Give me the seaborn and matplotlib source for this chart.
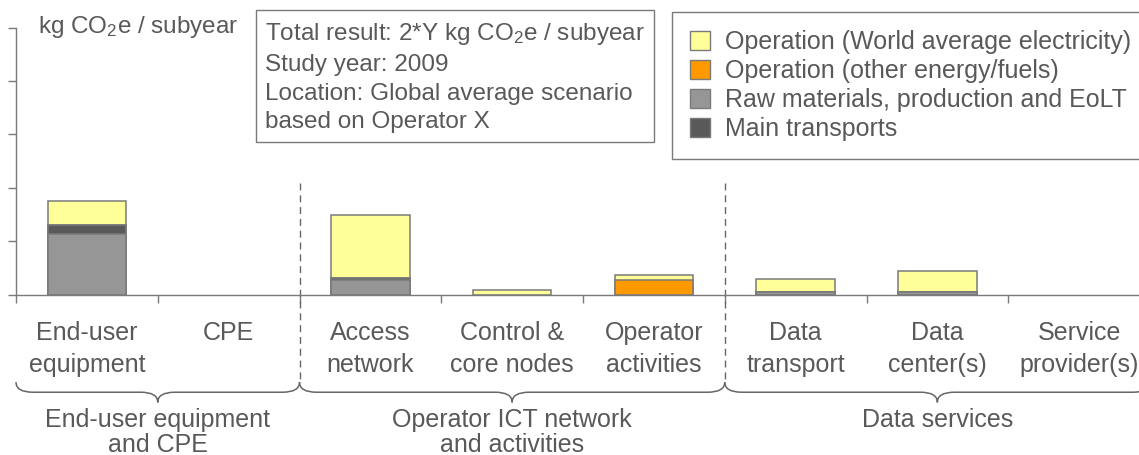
import numpy as np
import pandas as pd
import matplotlib
matplotlib.use("Agg")
import matplotlib.pyplot as plt
import seaborn as sns
from matplotlib.patches import Patch, PathPatch
from matplotlib.path import Path

categories = ["End-user\nequipment", "CPE", "Access\nnetwork", "Control &\ncore nodes",
              "Operator\nactivities", "Data\ntransport", "Data\ncenter(s)", "Service\nprovider(s)"]
raw_materials = [1.13, 0, 0.27, 0, 0, 0.04, 0.04, 0]
main_transports = [0.17, 0, 0.03, 0, 0, 0, 0, 0]
other_fuels = [0, 0, 0, 0, 0.27, 0, 0, 0]
world_electricity = [0.46, 0, 1.19, 0.075, 0.10, 0.25, 0.40, 0]

groups = ["End-user equipment\nand CPE", "Operator ICT network\nand activities", "Data services"]
group_spans = [(-0.5, 1.5), (1.5, 4.5), (4.5, 7.5)]

series_labels = ["Operation (World average electricity)", "Operation (other energy/fuels)",
                 "Raw materials, production and EoLT", "Main transports"]
colors = {"elec": "#FFFF99", "fuel": "#FF9900", "raw": "#969696", "trans": "#595959"}

sns.set_style("white")
plt.rcParams["font.family"] = ["Liberation Sans", "DejaVu Sans"]
plt.rcParams["mathtext.fontset"] = "custom"
plt.rcParams["mathtext.rm"] = "Liberation Sans"
plt.rcParams["mathtext.it"] = "Liberation Sans:italic"

txt = "#595959"
edge = "#7a7a7a"
fs = 18

df = pd.DataFrame({"cat": categories, "raw": raw_materials, "trans": main_transports,
                   "fuel": other_fuels, "elec": world_electricity})
df["c_trans"] = df["raw"] + df["trans"]
df["c_fuel"] = df["c_trans"] + df["fuel"]
df["c_elec"] = df["c_fuel"] + df["elec"]
# empty segments are not drawn
for c in ["raw", "c_trans", "c_fuel", "c_elec"]:
    df[c] = df[c].where(df[c] > 0)

fig = plt.figure(figsize=(11.39, 4.55), dpi=100)
ax = fig.add_axes([16 / 1139, 1 - 294.5 / 455, 1134 / 1139, 267 / 455])

for col, key in [("c_elec", "elec"), ("c_fuel", "fuel"), ("c_trans", "trans"), ("raw", "raw")]:
    sns.barplot(data=df, x="cat", y=col, order=categories, color=colors[key], saturation=1,
                width=0.555, edgecolor=edge, linewidth=1.1, errorbar=None, ax=ax)

ax.set_xlim(-0.5, 7.5)
ax.set_ylim(0, 5)
ax.set_xlabel("")
ax.set_ylabel("")
ax.set_xticks(np.arange(-0.5, 8.0, 1.0))
ax.set_xticklabels([])
ax.set_xticks(np.arange(8), minor=True)
ax.set_xticklabels(categories, minor=True, fontsize=fs, color=txt, linespacing=1.43)
ax.set_yticks(np.arange(0, 6))
ax.set_yticklabels([])
ax.tick_params(axis="both", which="major", direction="out", length=6, width=1, color=edge,
               bottom=True, left=True)
ax.tick_params(axis="x", which="minor", length=0, pad=19, bottom=True)
for s in ["top", "right"]:
    ax.spines[s].set_visible(False)
for s in ["left", "bottom"]:
    ax.spines[s].set_color(edge)
    ax.spines[s].set_linewidth(1)

# dashed separators
for xs in [1.5, 4.5]:
    ax.plot([xs, xs], [2.09, -1.64], ls=(0, (5, 3.5)), color="#666666", lw=1, clip_on=False)

# braces
def brace(x0, x1, top=-1.64, mid=-1.83, tip=-2.02, d=0.12):
    xc = (x0 + x1) / 2
    verts = [(x0, top), (x0, mid), (x0 + d, mid), (xc - d, mid), (xc, mid), (xc, tip),
             (xc, mid), (xc + d, mid), (x1 - d, mid), (x1, mid), (x1, top)]
    codes = [Path.MOVETO, Path.CURVE3, Path.CURVE3, Path.LINETO, Path.CURVE3, Path.CURVE3,
             Path.CURVE3, Path.CURVE3, Path.LINETO, Path.CURVE3, Path.CURVE3]
    ax.add_patch(PathPatch(Path(verts, codes), fc="none", ec="#666666", lw=1.1,
                           clip_on=False, transform=ax.transData))

for (x0, x1), g in zip(group_spans, groups):
    brace(x0, x1)
    ax.text((x0 + x1) / 2, -2.12, g, ha="center", va="top", fontsize=fs, color=txt,
            linespacing=1.08, clip_on=False)

# unit label
fig.text(38 / 1139, 1 - 27 / 455, "kg CO$_2$e / subyear", ha="left", va="center",
         fontsize=17.5, color=txt)

# info box
fig.text(265 / 1139, 1 - 21 / 455,
         "Total result: 2*Y kg CO$_2$e / subyear\nStudy year: 2009\n"
         "Location: Global average scenario\nbased on Operator X",
         ha="left", va="top", fontsize=17.5, color=txt, linespacing=1.4,
         bbox=dict(boxstyle="square,pad=0.37", fc="white", ec=edge, lw=1))

handles = [Patch(fc=colors[k], ec=edge, lw=1) for k in ["elec", "fuel", "raw", "trans"]]
leg = ax.legend(handles, series_labels, loc="upper left", bbox_to_anchor=(672 / 1139, 1 - 12 / 455),
                bbox_transform=fig.transFigure, fontsize=fs, frameon=True, fancybox=False,
                framealpha=1, edgecolor=edge, handlelength=0.8, handleheight=0.8,
                handletextpad=0.6, labelspacing=0.2, borderpad=0.72, borderaxespad=0)
leg.get_frame().set_linewidth(1)
for t in leg.get_texts():
    t.set_color(txt)

fig.savefig("out.png", dpi=100)
